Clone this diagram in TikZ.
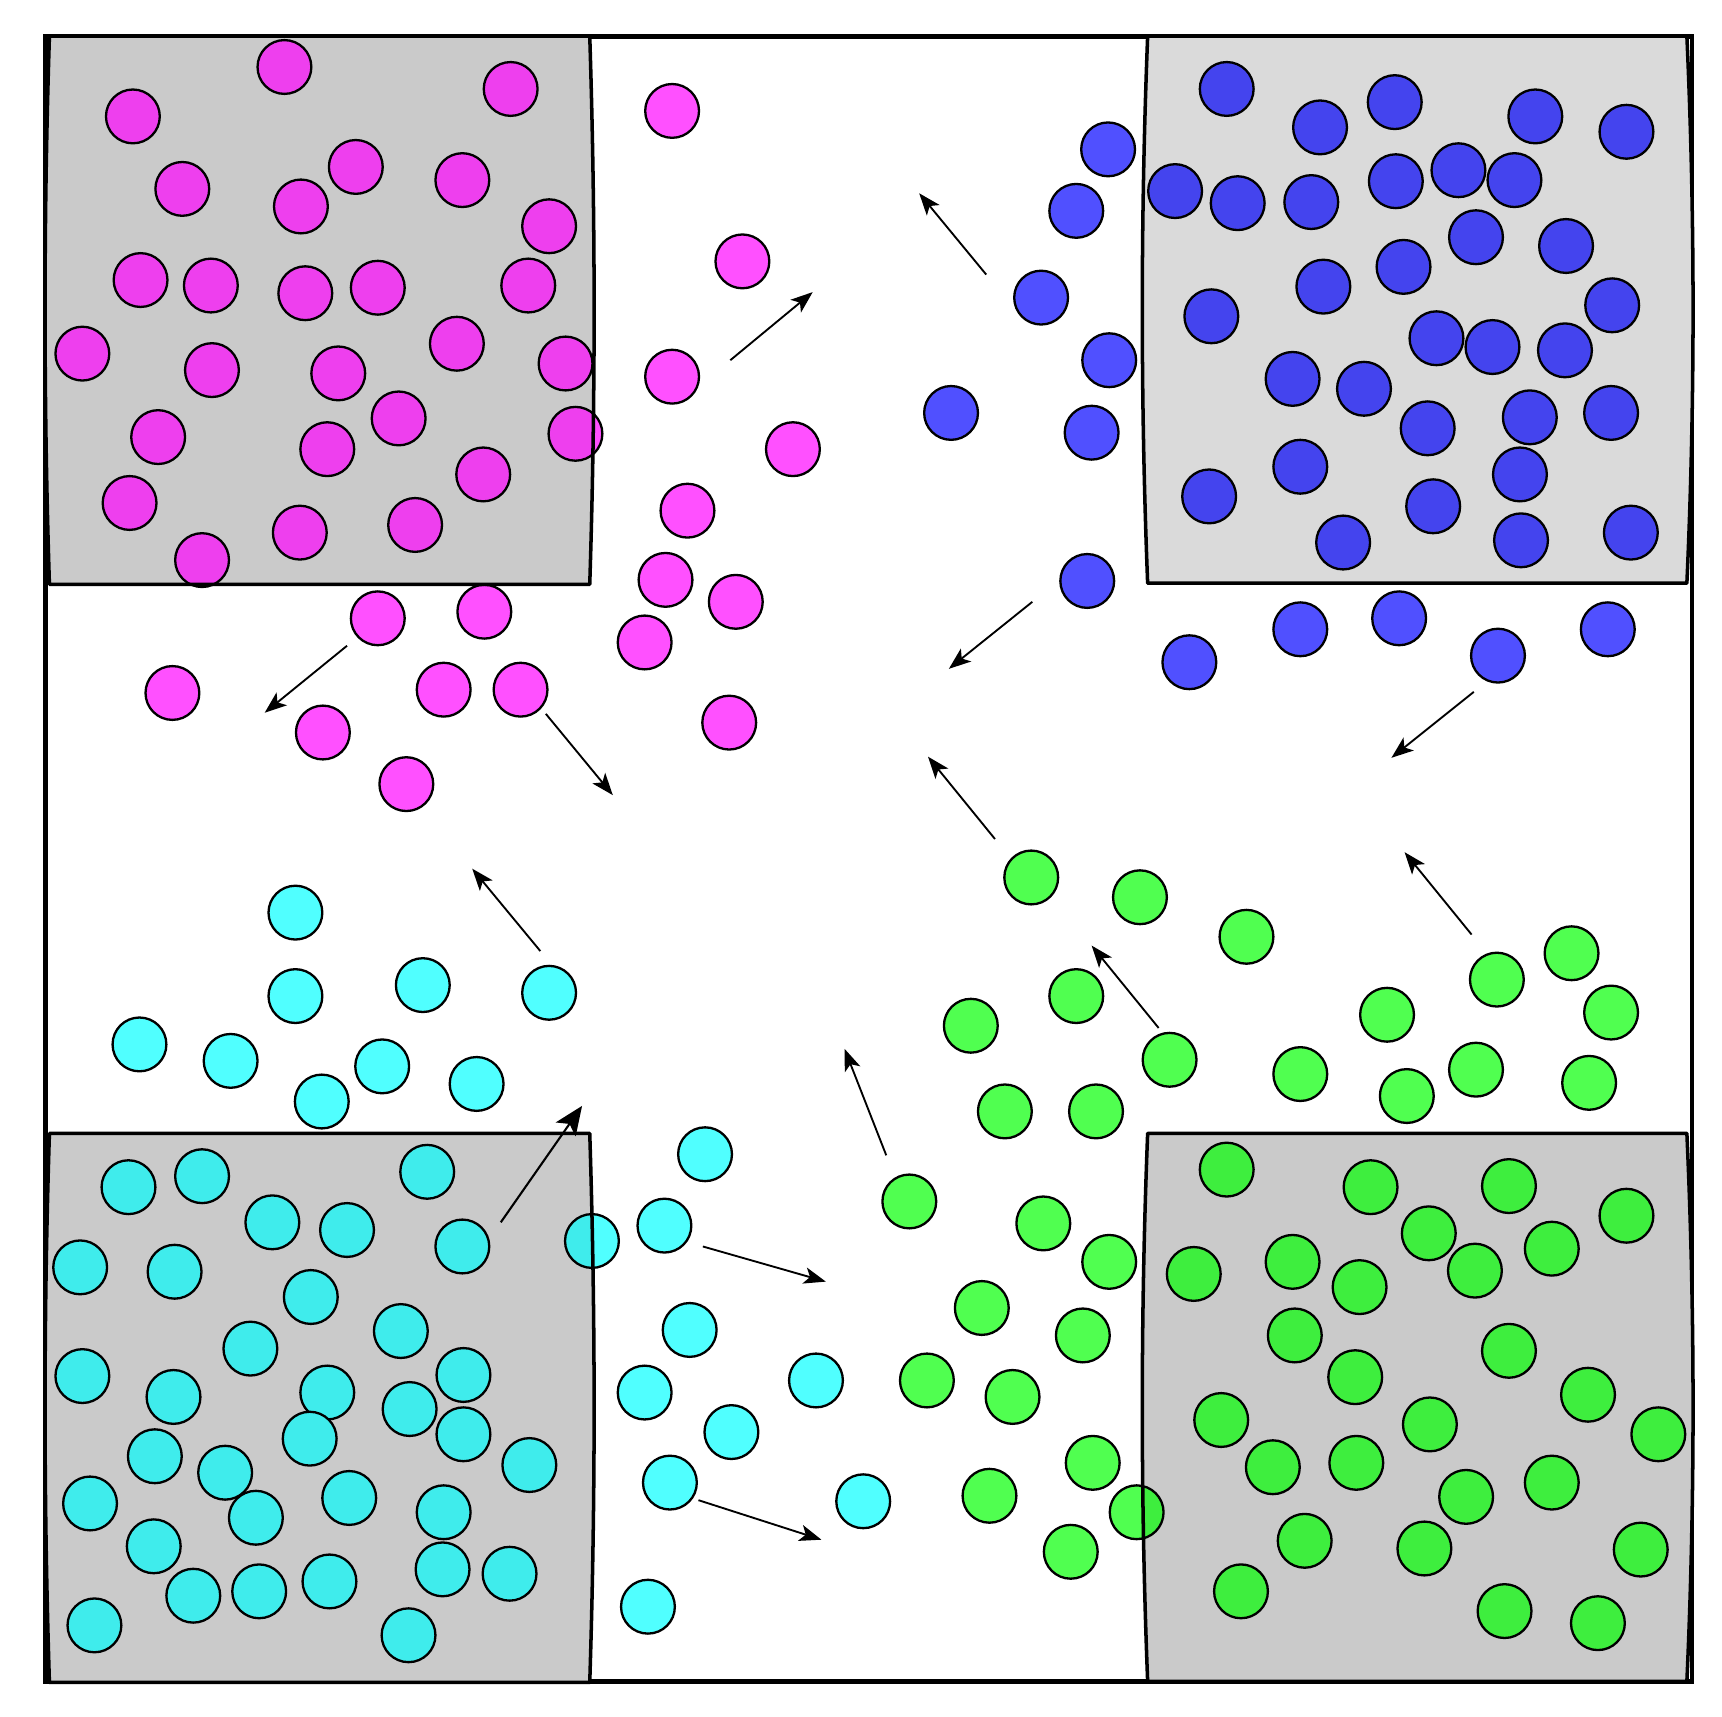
\documentclass[tikz,border=0pt]{standalone}
\usetikzlibrary{arrows.meta}
\definecolor{magout}{HTML}{FF50FF}
\definecolor{magin}{HTML}{EE3FEE}
\definecolor{bluout}{HTML}{5050FF}
\definecolor{bluin}{HTML}{4444EE}
\definecolor{cyaout}{HTML}{50FFFF}
\definecolor{cyain}{HTML}{3FECEC}
\definecolor{greout}{HTML}{50FF50}
\definecolor{grein}{HTML}{3EEE3E}
\definecolor{boxgrey}{HTML}{CACACA}
\definecolor{boxlight}{HTML}{DADADA}
\tikzset{
  ball/.style={draw=black, line width=1.05pt},
  boxline/.style={draw=black, line width=1.6pt, line join=round},
  frameline/.style={draw=black, line width=2.1pt},
  mover/.style={draw=black, line width=0.85pt, -{Stealth[length=10pt,width=7.5pt,inset=2.5pt]}},
  bigmover/.style={draw=black, line width=0.95pt, -{Stealth[length=13pt,width=11pt,inset=3pt]}}
}
\def\pTL{(45,33) -- (537,33) .. controls (542.3,199) and (542.3,366) .. (537,532) -- (45,532) .. controls (39.7,366) and (39.7,199) .. (45,33) -- cycle}
\def\pTR{(1045,33) -- (1536,33) .. controls (1543.5,199) and (1543.5,365) .. (1536,531) -- (1045,531) .. controls (1038.5,365) and (1038.5,199) .. (1045,33) -- cycle}
\def\pBL{(45,1032) -- (537,1032) .. controls (542.3,1199) and (542.3,1365) .. (537,1532) -- (45,1532) .. controls (39.7,1365) and (39.7,1199) .. (45,1032) -- cycle}
\def\pBR{(1045,1032) -- (1536,1032) .. controls (1543.5,1198) and (1543.5,1365) .. (1536,1531) -- (1045,1531) .. controls (1038.5,1365) and (1038.5,1198) .. (1045,1032) -- cycle}
\begin{document}
\begin{tikzpicture}[x=0.5pt,y=-0.5pt]
\useasboundingbox (0,0) rectangle (1568,1563);
\fill[white] (0,0) rectangle (1568,1563);
% frame
\draw[frameline, fill=white] (41.5,33) rectangle (1540.5,1531);
% box fills
\fill[boxgrey] \pTL;
\fill[boxlight] \pTR;
\fill[boxgrey] \pBL;
\fill[boxgrey] \pBR;
% magenta inside
\foreach \x/\y in {259/61,121/106,465/81,166/172,324/152,421/164,274/188,500/206,128/255,192/260,278/267,344/262,481/260,75/322,193/337,308/340,416/313,515/331,144/398,363/381,298/409,118/458,440/432,273/485,378/478,184/510}
  \filldraw[ball, fill=magin] (\x,\y) circle[radius=12.25pt];
% magenta outside
\foreach \x/\y in {612/101,676/238,612/343,722/409,626/465,606/528,670/548,587/585,664/658,344/563,441/557,157/631,404/628,474/628,294/667,370/714}
  \filldraw[ball, fill=magout] (\x,\y) circle[radius=12.25pt];
% blue inside
\foreach \x/\y in {1117/81,1202/116,1270/93,1398/106,1481/120,1070/174,1127/185,1194/184,1271/165,1328/155,1379/164,1344/216,1426/224,1205/261,1278/243,1103/288,1468/278,1308/308,1359/316,1425/319,1177/345,1242/354,1300/390,1393/380,1467/376,1184/425,1384/432,1101/452,1305/461,1223/494,1385/492,1485/485}
  \filldraw[ball, fill=bluin] (\x,\y) circle[radius=12.25pt];
% blue outside
\foreach \x/\y in {1009/136,980/192,948/271,1010/328,866/376,994/394,990/529,1083/603,1184/573,1274/563,1364/597,1464/573}
  \filldraw[ball, fill=bluout] (\x,\y) circle[radius=12.25pt];
% cyan inside
\foreach \x/\y in {117/1081,184/1071,389/1067,248/1113,316/1120,421/1135,73/1154,159/1158,283/1181,365/1212,228/1228,75/1253,158/1272,298/1268,422/1252,373/1283,282/1310,422/1306,141/1326,205/1341,482/1334,82/1369,318/1364,233/1382,404/1377,140/1408,176/1453,236/1449,300/1440,403/1429,464/1433,86/1480,372/1489}
  \filldraw[ball, fill=cyain] (\x,\y) circle[radius=12.25pt];
% cyan outside
\foreach \x/\y in {269/831,269/907,385/897,500/904,127/951,210/966,348/971,293/1003,434/987,642/1051,605/1116,628/1211,587/1268,743/1257,666/1304,610/1350,786/1367,590/1463}
  \filldraw[ball, fill=cyaout] (\x,\y) circle[radius=12.25pt];
% green inside
\foreach \x/\y in {1117/1065,1248/1081,1374/1080,1481/1107,1301/1123,1413/1137,1087/1160,1177/1149,1343/1157,1238/1172,1179/1216,1374/1230,1234/1254,1446/1270,1112/1293,1302/1297,1510/1306,1159/1336,1235/1332,1335/1363,1413/1350,1188/1403,1297/1410,1494/1411,1130/1449,1370/1467,1455/1478}
  \filldraw[ball, fill=grein] (\x,\y) circle[radius=12.25pt];
% green outside
\foreach \x/\y in {939/799,1038/817,1135/853,884/934,980/907,1065/965,1184/978,1263/924,1363/892,1431/868,1467/922,1281/998,1344/974,1447/986,915/1012,998/1012,828/1094,950/1114,1010/1149,894/1191,986/1216,844/1257,922/1272,995/1332,901/1362,975/1413}
  \filldraw[ball, fill=greout] (\x,\y) circle[radius=12.25pt];
% straddling balls
\fill[magout] (524,395) circle[radius=12.25pt];
\begin{scope}\clip \pTL; \fill[magin] (524,395) circle[radius=12.25pt]; \end{scope}
\draw[ball] (524,395) circle[radius=12.25pt];
\fill[cyaout] (539,1130) circle[radius=12.25pt];
\begin{scope}\clip \pBL; \fill[cyain] (539,1130) circle[radius=12.25pt]; \end{scope}
\draw[ball] (539,1130) circle[radius=12.25pt];
\fill[greout] (1035,1377) circle[radius=12.25pt];
\begin{scope}\clip \pBR; \fill[grein] (1035,1377) circle[radius=12.25pt]; \end{scope}
\draw[ball] (1035,1377) circle[radius=12.25pt];
% box outlines
\draw[boxline] \pTL;
\draw[boxline] \pTR;
\draw[boxline] \pBL;
\draw[boxline] \pBR;
% arrows
\coordinate (a1s) at (665,328); \coordinate (a1e) at (740,266);
\coordinate (a2s) at (898,250); \coordinate (a2e) at (837,176);
\coordinate (a3s) at (316,588); \coordinate (a3e) at (241,649);
\coordinate (a4s) at (497,650); \coordinate (a4e) at (558,724);
\coordinate (a5s) at (940,548); \coordinate (a5e) at (864,609);
\coordinate (a6s) at (906,764); \coordinate (a6e) at (845,689);
\coordinate (a7s) at (1342,630); \coordinate (a7e) at (1267,690);
\coordinate (a8s) at (492,866); \coordinate (a8e) at (430,791);
\coordinate (a9s) at (1055,936); \coordinate (a9e) at (994,861);
\coordinate (a10s) at (1340,851); \coordinate (a10e) at (1279,776);
\coordinate (a11s) at (456,1113); \coordinate (a11e) at (530,1007);
\coordinate (a12s) at (807,1052); \coordinate (a12e) at (769,955);
\coordinate (a13s) at (640,1135); \coordinate (a13e) at (752,1167);
\coordinate (a14s) at (636,1366); \coordinate (a14e) at (748,1402);
\foreach \i in {1,2,3,4,5,6,7,8,9,10,12,13,14}
  \draw[mover] (a\i s) -- (a\i e);
\draw[bigmover] (a11s) -- (a11e);
\end{tikzpicture}
\end{document}
